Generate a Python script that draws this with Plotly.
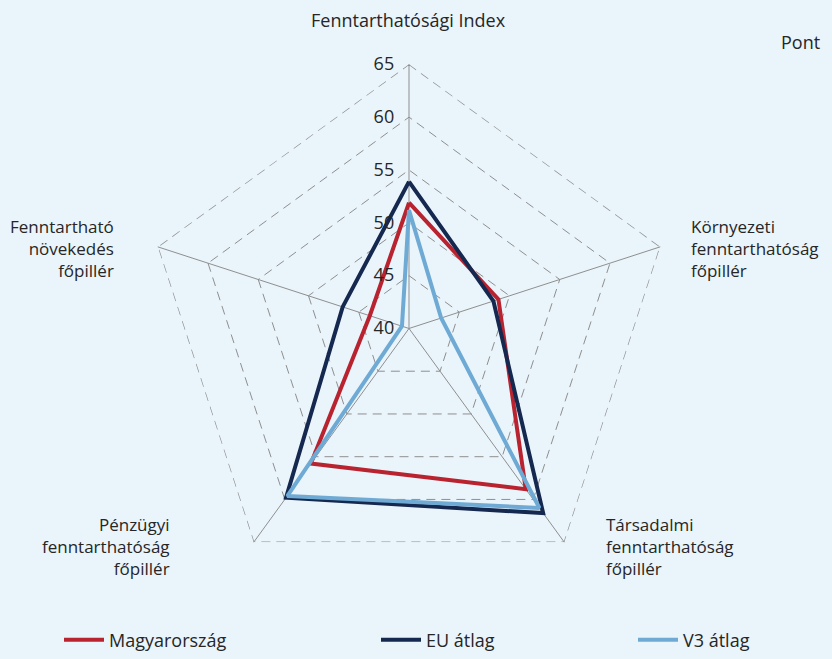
import plotly.graph_objects as go

categories = [
    "Fenntarthatósági Index",
    "Környezeti fenntarthatóság főpillér",
    "Társadalmi fenntarthatóság főpillér",
    "Pénzügyi fenntarthatóság főpillér",
    "Fenntartható növekedés főpillér",
]
category_labels = [
    "Fenntarthatósági Index",
    "Környezeti<br>fenntarthatóság<br>főpillér",
    "Társadalmi<br>fenntarthatóság<br>főpillér",
    "Pénzügyi<br>fenntarthatóság<br>főpillér",
    "Fenntartható<br>növekedés<br>főpillér",
]
series_names = ["Magyarország", "EU átlag", "V3 átlag"]
hu_values = [51.9, 48.9, 58.8, 55.8, 43.9]
eu_values = [53.9, 48.4, 61.6, 59.8, 46.6]
v3_values = [51.2, 43.2, 61.0, 59.6, 40.7]
radial_ticks = [40, 45, 50, 55, 60, 65]
unit_label = "Pont"

colors = ["#b8232f", "#15284f", "#6eaad4"]
BG = "#e9f4fb"
TXT = "#262626"
FONT = "Open Sans"
GRID = "#8f8f8f"

W, H = 832, 659
cx, cy, R = 409, 332, 267

fig = go.Figure()
# outer dashed boundary of the grid (at the top of the radial range)
fig.add_trace(go.Scatterpolar(
    r=[radial_ticks[-1]] * (len(categories) + 1),
    theta=categories + categories[:1],
    mode="lines",
    line=dict(color=GRID, width=1.3, dash="9px,6px"),
    showlegend=False,
    hoverinfo="skip",
))
for i, (name, vals) in enumerate(zip(series_names, [hu_values, eu_values, v3_values])):
    fig.add_trace(go.Scatterpolar(
        r=vals + vals[:1],
        theta=categories + categories[:1],
        mode="lines",
        name=name,
        line=dict(color=colors[i], width=4),
        legend=["legend", "legend2", "legend3"][i],
        hoverinfo="skip",
    ))

fig.update_layout(
    width=W, height=H,
    margin=dict(l=0, r=0, t=0, b=0),
    paper_bgcolor=BG,
    plot_bgcolor=BG,
    font=dict(family=FONT, size=16, color=TXT),
    polar=dict(
        bgcolor=BG,
        gridshape="linear",
        domain=dict(x=[(cx - R) / W, (cx + R) / W], y=[1 - (cy + R) / H, 1 - (cy - R) / H]),
        radialaxis=dict(
            range=[radial_ticks[0], radial_ticks[-1]],
            tickvals=radial_ticks,
            angle=90,
            tickangle=90,
            side="counterclockwise",
            showline=False,
            gridcolor=GRID,
            griddash="9px,6px",
            gridwidth=1.3,
            ticks="outside",
            ticklen=8,
            tickcolor="rgba(0,0,0,0)",
            tickfont=dict(size=18, color=TXT),
        ),
        angularaxis=dict(
            rotation=90,
            direction="clockwise",
            gridcolor=GRID,
            gridwidth=1.2,
            showline=False,
            showticklabels=False,
            ticks="",
        ),
    ),
    showlegend=True,
)

leg_common = dict(orientation="h", yanchor="middle", y=1 - 647 / H, xanchor="left",
                  bgcolor="rgba(0,0,0,0)", font=dict(size=18, color=TXT), itemwidth=40)
fig.update_layout(
    legend=dict(x=59 / W, **leg_common),
    legend2=dict(x=376 / W, **leg_common),
    legend3=dict(x=633 / W, **leg_common),
)

# axis category labels
label_pos = [
    (408, 20, "center", "middle", "center", 18),
    (689, 251, "left", "middle", "left", 17),
    (604, 552, "left", "middle", "left", 17),
    (172, 552, "right", "middle", "right", 17),
    (116, 251, "right", "middle", "right", 17),
]
for lab, (x, y, xa, ya, al, fs) in zip(category_labels, label_pos):
    fig.add_annotation(text=lab, x=x / W, y=1 - y / H, xref="paper", yref="paper",
                       xanchor=xa, yanchor=ya, align=al, showarrow=False,
                       font=dict(size=fs, color=TXT))

fig.add_annotation(text=unit_label, x=822 / W, y=1 - 42 / H, xref="paper", yref="paper",
                   xanchor="right", yanchor="middle", showarrow=False,
                   font=dict(size=18, color=TXT))

fig.write_html(
    "out.html",
    config={"displayModeBar": False},
    post_script="document.body.style.margin='0';document.body.style.background='%s';" % BG,
)
